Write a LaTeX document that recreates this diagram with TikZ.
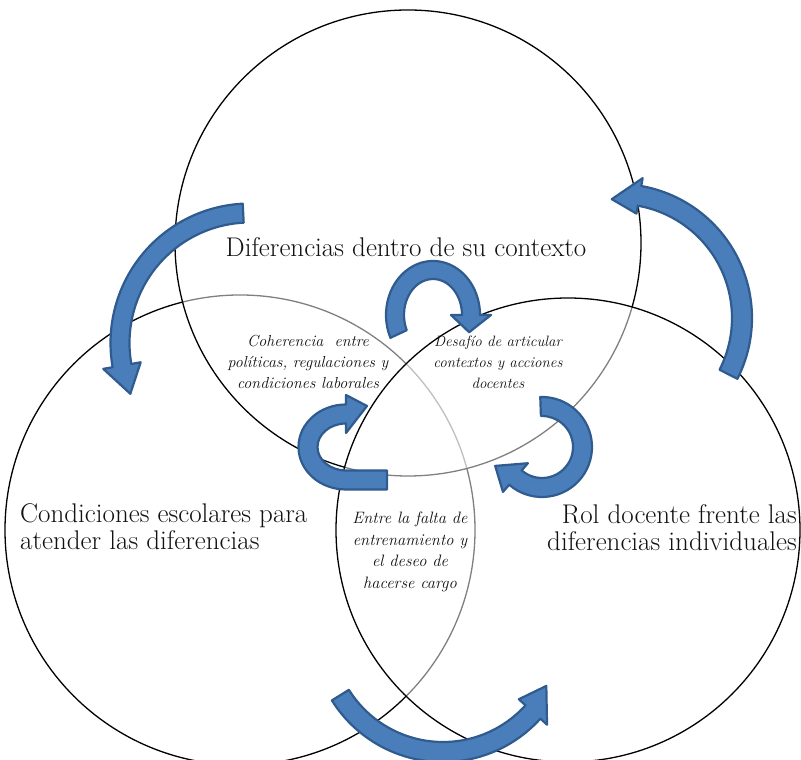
\documentclass[tikz,border=0pt]{standalone}
\usepackage{fontspec}
\usetikzlibrary{calc}

\definecolor{arrowfill}{HTML}{4A7EBB}
\definecolor{arrowline}{HTML}{2F5B8E}
\definecolor{inktext}{HTML}{111111}

% Curved block arrow along an elliptic arc.
% #1 centre (x,y), #2 x radius, #3 y radius, #4 tail angle, #5 angle where the head starts,
% #6 tip angle, #7 radial offset of the tip, #8 shaft width, #9 head width
\newcommand{\arcarrow}[9]{%
  \path[blockarrow]
    ([shift={#1}]#4:{#2+#8/2} and {#3+#8/2})
    arc[start angle=#4, end angle=#5, x radius={#2+#8/2}, y radius={#3+#8/2}]
    -- ([shift={#1}]#5:{#2+#9/2} and {#3+#9/2})
    -- ([shift={#1}]#6:{#2+#7} and {#3+#7})
    -- ([shift={#1}]#5:{#2-#9/2} and {#3-#9/2})
    -- ([shift={#1}]#5:{#2-#8/2} and {#3-#8/2})
    arc[start angle=#5, end angle=#4, x radius={#2-#8/2}, y radius={#3-#8/2}]
    -- cycle;}

\tikzset{
  venn/.style={circle, draw=black, line width=1.3pt, fill=white, fill opacity=0.5,
    draw opacity=1, inner sep=0pt, outer sep=0pt},
  bigtext/.style={text=inktext, font=\fontsize{27}{27}\selectfont, inner sep=0pt},
  smalltext/.style={text=inktext, align=center, inner sep=0pt},
  blockarrow/.style={fill=arrowfill, draw=arrowline, line width=2.2pt, line join=round},
}

\begin{document}
\begin{tikzpicture}[x=1pt, y=1pt]
  \useasboundingbox (0,0) rectangle (801,760);

  % three overlapping circles, drawn left, top, right
  \node[venn, minimum size=470pt] (cleft) at (240,230) {};
  \node[venn, minimum size=466pt] (ctop) at (408,517) {};
  \node[venn, minimum size=464pt] (cright) at (568,230) {};

  % labels of the circles
  \node[bigtext] (ttop) at (406,513) {Diferencias dentro de su contexto};
  \node[bigtext, anchor=west, align=left] (tleft) at (20,233.5)
    {Condiciones escolares para\\atender las diferencias};
  \node[bigtext, anchor=east, align=right] (tright) at (797,232)
    {Rol docente frente las\\diferencias individuales};

  % labels of the overlaps
  \node[smalltext, font=\fontsize{16}{21}\selectfont\itshape] (tlefttop) at (308,398)
    {Coherencia\ \ entre\\políticas, regulaciones y\\condiciones laborales};
  \node[smalltext, font=\fontsize{15}{21}\selectfont\itshape] (ttopright) at (498,398)
    {Desafío de articular\\contextos y acciones\\docentes};
  \node[smalltext, font=\fontsize{16.5}{21.5}\selectfont\itshape] (tleftright) at (410,208)
    {Entre la falta de\\entrenamiento y\\el deseo de\\hacerse cargo};

  % curved arrows
  \arcarrow{(250,417)}{130}{130}{93}{190}{203}{0}{19}{38}
  \arcarrow{(433,445)}{38}{45}{205}{0}{-22}{1}{18}{40}
  \arcarrow{(542,313)}{40.5}{40.5}{92}{-131}{-158}{10}{19}{38}
  \arcarrow{(618,442)}{124}{124}{-27}{80}{93}{-5}{20}{36}
  \arcarrow{(443,129)}{121}{121}{212}{318}{332}{-4}{20}{38}
  % arrow with a straight tail, turning up towards the upper left overlap
  \path[blockarrow]
    (387,270.5) -- (346,270.5)
    arc[start angle=-90, end angle=-270, x radius=47.5, y radius=42.5]
    -- (346,365) -- (367,354) -- (346,327) -- (346,336.5)
    arc[start angle=-270, end angle=-90, x radius=28.5, y radius=23.5]
    -- (387,289.5) -- cycle;
\end{tikzpicture}
\end{document}
